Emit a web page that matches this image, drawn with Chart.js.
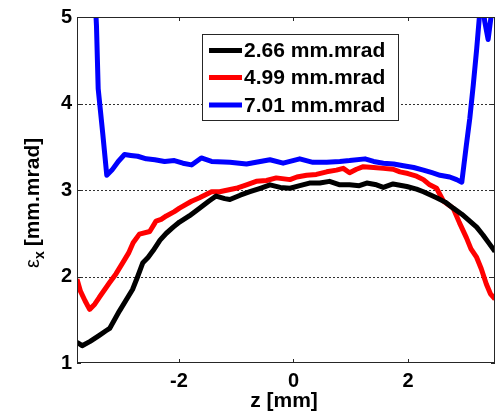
<!DOCTYPE html>
<html>
<head>
<meta charset="utf-8">
<script src="https://cdn.jsdelivr.net/npm/chart.js@4/dist/chart.umd.min.js"></script>
<style>
html,body{margin:0;padding:0;background:#fff;}
canvas{display:block;}
</style>
</head>
<body>
<canvas id="c" width="499" height="414"></canvas>
<script>
// ---- data ----
const seriesLabels = ["2.66 mm.mrad", "4.99 mm.mrad", "7.01 mm.mrad"];
const seriesColors = ["#000000", "#ff0000", "#0000ff"];

const zBlack = [-3.78,-3.69,-3.55,-3.39,-3.28,-3.21,-3.04,-2.81,-2.72,-2.63,-2.54,-2.45,-2.33,-2.22,-2.10,-1.99,-1.82,-1.64,-1.48,-1.35,-1.20,-1.11,-0.93,-0.76,-0.58,-0.41,-0.23,-0.06,0.11,0.28,0.46,0.63,0.81,0.98,1.15,1.28,1.45,1.57,1.74,1.98,2.15,2.27,2.50,2.65,2.79,2.94,3.08,3.20,3.31,3.42,3.52];
const epsBlack = [1.24,1.20,1.25,1.32,1.37,1.40,1.60,1.85,2.00,2.16,2.22,2.30,2.42,2.50,2.57,2.63,2.70,2.79,2.87,2.93,2.90,2.89,2.94,2.98,3.02,3.06,3.03,3.02,3.05,3.08,3.08,3.10,3.06,3.06,3.05,3.08,3.06,3.03,3.07,3.04,3.01,2.98,2.91,2.86,2.79,2.72,2.64,2.57,2.48,2.38,2.29];

const zRed = [-3.78,-3.72,-3.64,-3.56,-3.47,-3.39,-3.21,-3.10,-2.98,-2.88,-2.80,-2.69,-2.51,-2.40,-2.31,-2.22,-2.08,-1.99,-1.78,-1.64,-1.43,-1.29,-1.00,-0.82,-0.65,-0.47,-0.30,-0.06,0.06,0.23,0.40,0.58,0.75,0.87,0.98,1.10,1.22,1.40,1.57,1.74,1.86,2.00,2.15,2.27,2.38,2.50,2.62,2.79,2.90,3.02,3.10,3.20,3.28,3.37,3.44,3.52];
const epsRed = [1.97,1.83,1.72,1.62,1.68,1.76,1.93,2.03,2.16,2.27,2.39,2.49,2.52,2.64,2.66,2.70,2.75,2.79,2.87,2.91,2.98,2.98,3.02,3.06,3.10,3.11,3.14,3.12,3.15,3.17,3.18,3.21,3.23,3.25,3.20,3.24,3.27,3.26,3.25,3.24,3.21,3.19,3.16,3.12,3.06,3.02,2.87,2.79,2.62,2.45,2.32,2.22,2.09,1.91,1.80,1.74];

const zBlue = [-3.47,-3.44,-3.41,-3.33,-3.26,-3.17,-3.06,-2.95,-2.84,-2.72,-2.57,-2.42,-2.25,-2.08,-1.93,-1.78,-1.61,-1.43,-1.11,-0.82,-0.58,-0.41,-0.18,0.11,0.34,0.58,0.81,0.98,1.25,1.40,1.57,1.75,1.92,2.10,2.27,2.42,2.56,2.73,2.85,2.94,3.02,3.08,3.14,3.20,3.26,3.30,3.34,3.40,3.46,3.52];
const epsBlue = [5.30,4.90,4.17,3.65,3.17,3.23,3.33,3.41,3.40,3.39,3.36,3.35,3.33,3.34,3.31,3.29,3.37,3.33,3.32,3.30,3.33,3.35,3.31,3.36,3.32,3.32,3.33,3.34,3.36,3.33,3.31,3.30,3.28,3.26,3.23,3.20,3.17,3.15,3.12,3.09,3.52,3.83,4.21,4.63,5.10,5.20,4.95,4.74,5.05,5.40];

const xTicks = [-2, 0, 2];
const yTicks = [1, 2, 3, 4, 5];
const yGrid = [2, 3, 4];
const xMin = -3.78, xMax = 3.52, yMin = 1, yMax = 5;

// ---- chart ----
const FONT = '"Liberation Sans", Arial, Helvetica, sans-serif';
const pairs = (xs, ys) => xs.map((x, i) => ({x: x, y: ys[i]}));

const decor = {
  id: 'decor',
  beforeDatasetsDraw(chart) {
    const ctx = chart.ctx, a = chart.chartArea, ys = chart.scales.y;
    ctx.save();
    ctx.strokeStyle = '#303030';
    ctx.lineWidth = 1;
    ctx.setLineDash([2, 2]);
    yGrid.forEach(v => {
      const py = Math.round(ys.getPixelForValue(v)) + 0.5;
      ctx.beginPath(); ctx.moveTo(a.left, py); ctx.lineTo(a.right, py); ctx.stroke();
    });
    ctx.restore();
  },
  afterDatasetsDraw(chart) {
    const ctx = chart.ctx, a = chart.chartArea, xs = chart.scales.x, ys = chart.scales.y;
    ctx.save();
    // box
    ctx.strokeStyle = '#262626';
    ctx.lineWidth = 1;
    ctx.setLineDash([]);
    ctx.strokeRect(Math.round(a.left) + 0.5, Math.round(a.top) + 0.5,
                   Math.round(a.right) - Math.round(a.left) - 1, Math.round(a.bottom) - Math.round(a.top) - 1);
    // inward ticks
    const tl = 4;
    ctx.beginPath();
    xTicks.forEach(v => {
      const px = Math.round(xs.getPixelForValue(v)) + 0.5;
      ctx.moveTo(px, a.bottom); ctx.lineTo(px, a.bottom - tl);
      ctx.moveTo(px, a.top); ctx.lineTo(px, a.top + tl);
    });
    yTicks.forEach(v => {
      const py = Math.round(ys.getPixelForValue(v)) + 0.5;
      ctx.moveTo(a.left, py); ctx.lineTo(a.left + tl, py);
      ctx.moveTo(a.right, py); ctx.lineTo(a.right - tl, py);
    });
    ctx.stroke();

    // legend
    const lx = 202.5, ly = 34.5, lw = 196, lh = 86;
    ctx.fillStyle = '#ffffff';
    ctx.fillRect(lx, ly, lw, lh);
    ctx.strokeStyle = '#262626';
    ctx.strokeRect(lx, ly, lw, lh);
    const rowY = [50.5, 77.5, 105];
    ctx.font = 'bold 21px ' + FONT;
    ctx.textBaseline = 'middle';
    ctx.textAlign = 'left';
    chart.data.datasets.forEach((ds, i) => {
      ctx.strokeStyle = ds.borderColor;
      ctx.lineWidth = 5;
      ctx.lineCap = 'butt';
      ctx.beginPath(); ctx.moveTo(209, rowY[i]); ctx.lineTo(242, rowY[i]); ctx.stroke();
      ctx.fillStyle = '#000';
      ctx.fillText(ds.label, 244, rowY[i] + 1);
    });

    // x axis title
    ctx.fillStyle = '#000';
    ctx.font = 'bold 21px ' + FONT;
    ctx.textAlign = 'center';
    ctx.textBaseline = 'alphabetic';
    ctx.fillText('z [mm]', 284, 407);

    // y axis title (rotated, with subscript)
    ctx.translate(39, 268);
    ctx.rotate(-Math.PI / 2);
    ctx.textAlign = 'left';
    ctx.font = '20px ' + FONT;
    ctx.fillText('ε', 0, 0);
    let w = ctx.measureText('ε').width;
    ctx.font = 'bold 14px ' + FONT;
    ctx.fillText('x', w, 5);
    w += ctx.measureText('x').width + 5;
    ctx.font = 'bold 21px ' + FONT;
    ctx.fillText('[mm.mrad]', w, 0);
    ctx.restore();
  }
};

new Chart(document.getElementById('c'), {
  type: 'line',
  data: {
    datasets: [
      {label: seriesLabels[0], data: pairs(zBlack, epsBlack), borderColor: seriesColors[0]},
      {label: seriesLabels[1], data: pairs(zRed, epsRed), borderColor: seriesColors[1]},
      {label: seriesLabels[2], data: pairs(zBlue, epsBlue), borderColor: seriesColors[2]}
    ].map(d => Object.assign(d, {borderWidth: 5, pointRadius: 0, tension: 0, fill: false,
                                  borderJoinStyle: 'round', borderCapStyle: 'butt'}))
  },
  options: {
    responsive: false,
    animation: false,
    devicePixelRatio: 1,
    layout: {padding: {left: 0, right: 4, top: 14, bottom: 0}},
    plugins: {legend: {display: false}, tooltip: {enabled: false}},
    scales: {
      x: {
        type: 'linear', min: xMin, max: xMax,
        grid: {display: false, drawTicks: false},
        border: {display: false},
        ticks: {color: '#000', font: {family: FONT, size: 20, weight: 'bold'}, padding: 6, maxRotation: 0},
        afterBuildTicks: s => { s.ticks = xTicks.map(v => ({value: v})); },
        afterFit: s => { s.height = 51; }
      },
      y: {
        type: 'linear', min: yMin, max: yMax,
        grid: {display: false, drawTicks: false},
        border: {display: false},
        ticks: {color: '#000', font: {family: FONT, size: 20, weight: 'bold'}, padding: 5},
        afterBuildTicks: s => { s.ticks = yTicks.map(v => ({value: v})); },
        afterFit: s => { s.width = 77; }
      }
    }
  },
  plugins: [decor]
});
</script>
</body>
</html>
